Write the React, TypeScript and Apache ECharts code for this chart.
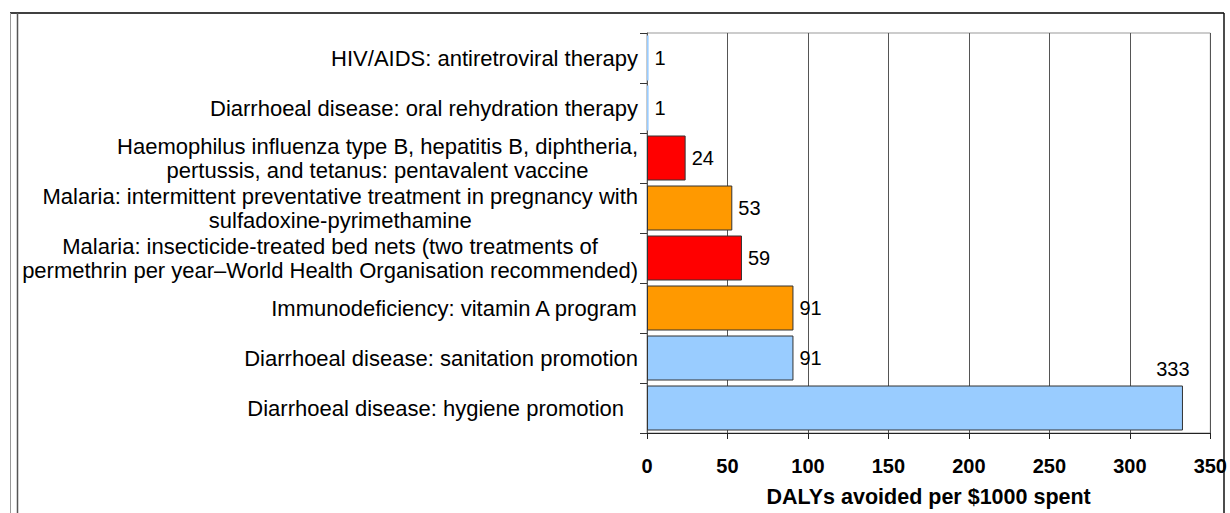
import React, { useEffect, useRef } from "react";
import * as echarts from "echarts";

// Top to bottom
const categories: string[] = [
  "HIV/AIDS: antiretroviral therapy",
  "Diarrhoeal disease: oral rehydration therapy",
  "Haemophilus influenza type B, hepatitis B, diphtheria,\npertussis, and tetanus: pentavalent vaccine",
  "Malaria: intermittent preventative treatment in pregnancy with\nsulfadoxine-pyrimethamine",
  "Malaria: insecticide-treated bed nets (two treatments of\npermethrin per year\u2013World Health Organisation recommended)",
  "Immunodeficiency: vitamin A program",
  "Diarrhoeal disease: sanitation promotion",
  "Diarrhoeal disease: hygiene promotion",
];
const values: number[] = [1, 1, 24, 53, 59, 91, 91, 333];
const barColors: string[] = [
  "#99CCFF",
  "#99CCFF",
  "#FF0000",
  "#FF9900",
  "#FF0000",
  "#FF9900",
  "#99CCFF",
  "#99CCFF",
];
const xTicks = { min: 0, max: 350, interval: 50 };
const xTitle = "DALYs avoided per $1000 spent";

const FONT = 'Arial, "Liberation Sans", sans-serif';

export default function App() {
  const ref = useRef<HTMLDivElement>(null);
  useEffect(() => {
    if (!ref.current) return;
    const chart = echarts.init(ref.current, undefined, { renderer: "svg" });
    const data = values.map((v, i) => {
      const item: any = {
        value: v,
        itemStyle: {
          color: barColors[i],
          borderColor: "#333",
          borderWidth: v < 2 ? 0 : 1,
        },
      };
      if (i === values.length - 1) {
        item.label = { position: ["95%", -27] };
      }
      return item;
    });
    chart.setOption({
      animation: false,
      backgroundColor: "#fff",
      grid: {
        left: 647,
        right: 19,
        top: 33,
        bottom: 77,
        show: true,
        borderColor: "#999",
        borderWidth: 1,
        backgroundColor: "transparent",
      },
      xAxis: {
        type: "value",
        min: xTicks.min,
        max: xTicks.max,
        interval: xTicks.interval,
        name: xTitle,
        nameLocation: "middle",
        nameGap: 53,
        nameTextStyle: { fontFamily: FONT, fontSize: 21.5, fontWeight: "bold", color: "#000" },
        axisLine: { show: true, lineStyle: { color: "#222", width: 1 } },
        axisTick: { show: true, inside: false, length: 6, lineStyle: { color: "#222" } },
        axisLabel: { fontFamily: FONT, fontSize: 20, fontWeight: "bold", color: "#000", margin: 23 },
        splitLine: { show: true, lineStyle: { color: "#555", width: 1 } },
      },
      yAxis: {
        type: "category",
        inverse: true,
        data: categories,
        axisLine: { show: true, lineStyle: { color: "#555", width: 1 } },
        axisTick: { show: true, inside: false, length: 7, alignWithLabel: false, lineStyle: { color: "#333" } },
        axisLabel: {
          align: "right",
          margin: 9,
          color: "#000",
          fontFamily: FONT,
          fontSize: 22,
          interval: 0,
          formatter: (val: string, idx: number) => {
            const style = idx === categories.length - 1 ? "p" : "c";
            return val
              .split("\n")
              .map((l) => "{" + style + "|" + l + "}")
              .join("\n");
          },
          rich: {
            c: { align: "center", fontFamily: FONT, fontSize: 22, lineHeight: 24, color: "#000" },
            p: { align: "center", fontFamily: FONT, fontSize: 22, lineHeight: 24, color: "#000", padding: [0, 14, 0, 0] },
          },
        },
        splitLine: { show: false },
      },
      series: [
        {
          type: "bar",
          data,
          barCategoryGap: "10%",
          label: {
            show: true,
            position: "right",
            distance: 6,
            fontFamily: FONT,
            fontSize: 20,
            color: "#000",
          },
        },
      ],
      graphic: [
        { type: "line", shape: { x1: 10, y1: 13, x2: 1224, y2: 13 }, style: { stroke: "#000", lineWidth: 1.5 } },
        { type: "line", shape: { x1: 10.5, y1: 13, x2: 10.5, y2: 513 }, style: { stroke: "#999", lineWidth: 1 } },
        { type: "line", shape: { x1: 17.5, y1: 13, x2: 17.5, y2: 513 }, style: { stroke: "#555", lineWidth: 1.5 } },
        { type: "line", shape: { x1: 1224, y1: 13, x2: 1224, y2: 513 }, style: { stroke: "#111", lineWidth: 1.5 } },
      ],
    });
    return () => chart.dispose();
  }, []);
  return (
    <div
      ref={ref}
      style={{ position: "fixed", left: 0, top: 0, width: 1230, height: 513 }}
    />
  );
}
